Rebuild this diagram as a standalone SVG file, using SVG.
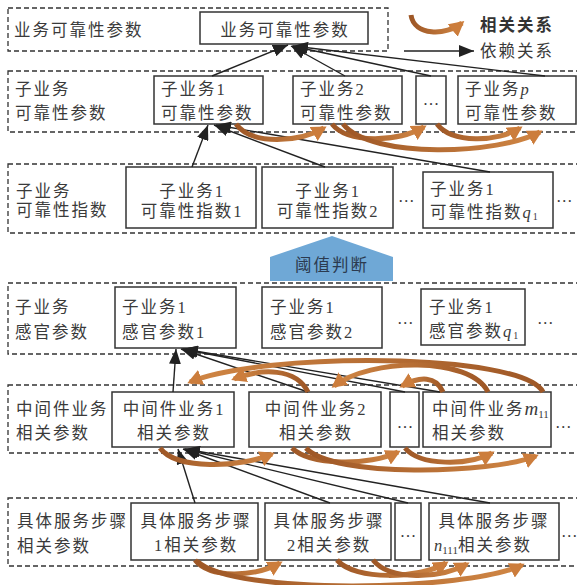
<svg xmlns="http://www.w3.org/2000/svg" width="577" height="585" viewBox="0 0 577 585">
<defs>
<style>
.t{font-family:"Liberation Serif","Noto Sans CJK SC",serif;font-size:16.5px;fill:#3a3a3a;letter-spacing:2px}
.m{text-anchor:middle}
.grp{fill:none;stroke:#333;stroke-width:1.3;stroke-dasharray:5 3}
.box{fill:#fff;stroke:#333;stroke-width:1.5}
.dep{fill:none;stroke:#222;stroke-width:1.4;marker-end:url(#ah)}
.rel{fill:none;stroke:url(#og);stroke-width:5;marker-end:url(#oh)}
.relr{fill:none;stroke:url(#og2);stroke-width:5;marker-end:url(#oh)}
.i{font-style:italic;font-family:"Liberation Serif",serif}
.dots{letter-spacing:0}
</style>
<marker id="ah" markerUnits="userSpaceOnUse" markerWidth="15" markerHeight="12" refX="15" refY="6" orient="auto"><path d="M0,0 L15,6 L0,12 Z" fill="#222"/></marker>
<marker id="oh" markerUnits="userSpaceOnUse" markerWidth="15" markerHeight="16" refX="12" refY="8" orient="auto"><path d="M0,0 L15,8 L0,16 Z" fill="#cc7d3c"/></marker>
<linearGradient id="og" x1="0" y1="0" x2="1" y2="0"><stop offset="0" stop-color="#9e5726"/><stop offset="1" stop-color="#d08644"/></linearGradient>
<linearGradient id="og2" x1="1" y1="0" x2="0" y2="0"><stop offset="0" stop-color="#9e5726"/><stop offset="1" stop-color="#d08644"/></linearGradient>
</defs>
<rect width="577" height="585" fill="#fff"/>

<!-- group boxes -->
<g id="groups">
<rect class="grp" x="8" y="8" width="380" height="43"/>
<rect class="grp" x="8" y="71" width="585" height="61"/>
<rect class="grp" x="8" y="164" width="585" height="69"/>
<rect class="grp" x="8" y="283" width="585" height="71"/>
<rect class="grp" x="8" y="385" width="585" height="68"/>
<rect class="grp" x="8" y="498" width="585" height="68"/>
<text class="t" x="14" y="36">业务可靠性参数</text>
<text class="t" x="15" y="95">子业务</text>
<text class="t" x="15" y="119">可靠性参数</text>
<text class="t" x="16" y="197">子业务</text>
<text class="t" x="16" y="216">可靠性指数</text>
<text class="t" x="15" y="313">子业务</text>
<text class="t" x="15" y="338">感官参数</text>
<text class="t" x="16" y="415">中间件业务</text>
<text class="t" x="16" y="439">相关参数</text>
<text class="t" x="17" y="527">具体服务步骤</text>
<text class="t" x="17" y="552">相关参数</text>
</g>

<!-- legend -->
<g id="legend">
<path d="M411,15 C414,36 446,36 462,23" fill="none" stroke="url(#og)" stroke-width="5" marker-end="url(#oh)"/>
<text class="t" x="480" y="31" style="font-weight:bold;fill:#333">相关关系</text>
<line x1="404" y1="51" x2="474" y2="51" class="dep"/>
<text class="t" x="480" y="57">依赖关系</text>
</g>

<!-- threshold -->
<g id="threshold">
<polygon points="270,257 332,236 393,257 393,281 270,281" fill="#6fa8d6"/>
<text class="t m" x="332" y="271" style="fill:#2b3a4f">阈值判断</text>
</g>

<!-- nodes -->
<g id="n-biz"><rect class="box" x="200" y="12" width="168" height="32"/><text class="t m" x="285" y="36">业务可靠性参数</text></g>

<g id="n-sb1"><rect class="box" x="154" y="76" width="109" height="48"/><text class="t" x="161" y="95">子业务1</text><text class="t" x="161" y="119">可靠性参数</text></g>
<g id="n-sb2"><rect class="box" x="293" y="76" width="109" height="48"/><text class="t" x="300" y="95">子业务2</text><text class="t" x="300" y="119">可靠性参数</text></g>
<g id="n-sbd"><rect class="box" x="416" y="76" width="30" height="48"/><text class="t m dots" x="431" y="105">…</text></g>
<g id="n-sbp"><rect class="box" x="458" y="76" width="118" height="48"/><text class="t" x="465" y="95">子业务<tspan class="i">p</tspan></text><text class="t" x="465" y="119">可靠性参数</text></g>

<g id="n-ix1"><rect class="box" x="126" y="167" width="130" height="61"/><text class="t m" x="192" y="197">子业务1</text><text class="t m" x="192" y="217">可靠性指数1</text></g>
<g id="n-ix2"><rect class="box" x="262" y="167" width="131" height="61"/><text class="t m" x="328" y="197">子业务1</text><text class="t m" x="328" y="217">可靠性指数2</text></g>
<text class="t dots" x="398" y="202">…</text>
<g id="n-ixq"><rect class="box" x="423" y="172" width="130" height="56"/><text class="t" x="430" y="195">子业务1</text><text class="t" x="430" y="218">可靠性指数<tspan class="i">q</tspan><tspan font-size="10" dy="2" style="letter-spacing:0">1</tspan></text></g>
<text class="t dots" x="556" y="202">…</text>

<g id="n-sn1"><rect class="box" x="115" y="287" width="121" height="61"/><text class="t" x="122" y="313">子业务1</text><text class="t" x="122" y="338">感官参数1</text></g>
<g id="n-sn2"><rect class="box" x="262" y="287" width="120" height="61"/><text class="t" x="270" y="313">子业务1</text><text class="t" x="270" y="338">感官参数2</text></g>
<text class="t dots" x="397" y="324">…</text>
<g id="n-snq"><rect class="box" x="421" y="289" width="104" height="56"/><text class="t" x="429" y="313">子业务1</text><text class="t" x="429" y="337">感官参数<tspan class="i">q</tspan><tspan font-size="10" dy="2" style="letter-spacing:0">1</tspan></text></g>
<text class="t dots" x="537" y="324">…</text>

<g id="n-mw1"><rect class="box" x="112" y="392" width="122" height="55"/><text class="t m" x="174" y="415">中间件业务1</text><text class="t m" x="174" y="439">相关参数</text></g>
<g id="n-mw2"><rect class="box" x="249" y="392" width="132" height="55"/><text class="t m" x="316" y="415">中间件业务2</text><text class="t m" x="316" y="439">相关参数</text></g>
<g id="n-mwd"><rect class="box" x="390" y="392" width="29" height="55"/><text class="t m dots" x="405" y="428">…</text></g>
<g id="n-mwm"><rect class="box" x="423" y="392" width="128" height="55"/><text class="t" x="432" y="415">中间件业务<tspan class="i" font-size="19" style="letter-spacing:0">m</tspan><tspan font-size="11" dy="3" style="letter-spacing:0">11</tspan></text><text class="t" x="432" y="439">相关参数</text></g>
<text class="t dots" x="555" y="428">…</text>

<g id="n-st1"><rect class="box" x="131" y="503" width="127" height="57"/><text class="t m" x="196" y="527">具体服务步骤</text><text class="t m" x="196" y="551">1相关参数</text></g>
<g id="n-st2"><rect class="box" x="265" y="503" width="126" height="57"/><text class="t m" x="329" y="527">具体服务步骤</text><text class="t m" x="329" y="551">2相关参数</text></g>
<g id="n-std"><rect class="box" x="395" y="503" width="26" height="57"/><text class="t m dots" x="408" y="537">…</text></g>
<g id="n-stn"><rect class="box" x="429" y="503" width="130" height="57"/><text class="t m" x="494" y="527">具体服务步骤</text><text class="t" x="434" y="551"><tspan class="i" style="letter-spacing:0">n</tspan><tspan font-size="11" dy="3" style="letter-spacing:0">111</tspan><tspan dy="-3">相关参数</tspan></text></g>
<text class="t dots" x="561" y="537" font-size="14">…</text>

<!-- connectors -->
<g id="connectors">
<!-- dependency: row2 -> row1 -->
<line class="dep" x1="212" y1="76" x2="288" y2="45"/>
<line class="dep" x1="345" y1="76" x2="291" y2="46"/>
<line class="dep" x1="431" y1="76" x2="292" y2="46"/>
<line class="dep" x1="545" y1="76" x2="293" y2="46"/>
<!-- row3 -> 子业务1 -->
<line class="dep" x1="192" y1="167" x2="208" y2="125"/>
<line class="dep" x1="325" y1="167" x2="214" y2="125"/>
<line class="dep" x1="490" y1="172" x2="216" y2="125"/>
<!-- row5 -> 感官参数1 -->
<line class="dep" x1="173" y1="392" x2="176" y2="349"/>
<line class="dep" x1="308" y1="392" x2="181" y2="349"/>
<line class="dep" x1="405" y1="392" x2="182" y2="349"/>
<line class="dep" x1="440" y1="392" x2="183" y2="349"/>
<!-- row6 -> 中间件1 -->
<line class="dep" x1="195" y1="503" x2="178" y2="449"/>
<line class="dep" x1="330" y1="503" x2="183" y2="449"/>
<line class="dep" x1="408" y1="503" x2="184" y2="449"/>
<line class="dep" x1="490" y1="503" x2="185" y2="449"/>

<!-- correlation: row 2 -->
<path class="rel" d="M236,124 C252,146 300,142 324,128"/>
<path class="rel" d="M332,124 C348,144 398,142 424,127"/>
<path class="rel" d="M343,124 C372,160 500,154 540,132"/>
<path class="rel" d="M437,124 C452,144 498,142 520,128"/>
<!-- row 5 top -->
<path class="relr" d="M543,392 C522,352 262,352 190,382"/>
<path class="relr" d="M308,392 C296,368 262,368 234,379"/>
<path class="relr" d="M488,392 C470,356 370,358 334,386"/>
<path class="relr" d="M443,392 C436,376 420,376 402,386"/>
<!-- row 5 bottom -->
<path class="rel" d="M160,448 C176,470 240,468 272,454"/>
<path class="rel" d="M292,448 C310,466 370,466 398,452"/>
<path class="rel" d="M306,448 C332,478 492,474 536,456"/>
<path class="rel" d="M405,448 C420,466 468,466 492,453"/>
<!-- row 6 bottom -->
<path class="rel" d="M195,560 C210,579 255,577 280,563"/>
<path class="rel" d="M337,560 C355,581 420,579 446,563"/>
<path class="rel" d="M373,560 C390,581 440,579 467,564"/>
<path class="rel" d="M197,561 C232,596 470,591 522,565"/>
</g>
</svg>
